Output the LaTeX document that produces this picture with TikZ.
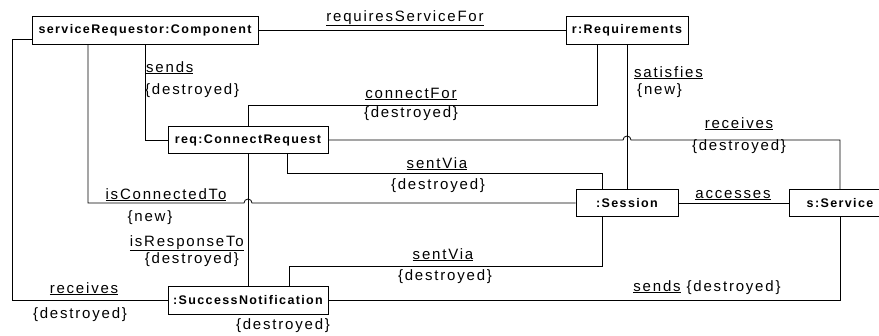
\documentclass[tikz,border=0pt]{standalone}
\usepackage{fontspec}
\setmainfont{Liberation Sans}
\newfontfamily\lblfont{Liberation Sans}[LetterSpace=12]
\newfontfamily\objfont{Liberation Sans}[LetterSpace=11]
\usetikzlibrary{positioning}

\begin{document}
\begin{tikzpicture}
  [
  x=1pt, y=-1pt,
  obj/.style={draw,line width=1pt,fill=white,minimum height=27.5pt,inner sep=0pt,
    font=\objfont\fontsize{12.5}{14}\selectfont\bfseries},
  link/.style={line width=0.8pt},
  lbl/.style={inner sep=0pt,font=\lblfont\fontsize{15}{17}\selectfont}
  ]
  \clip (0,0) rectangle (879,335);
  \useasboundingbox (0,0) rectangle (879,335);

  % objects
  \node[obj,minimum width=226pt] (comp) at (145,30.5) {serviceRequestor:Component};
  \node[obj,minimum width=122pt] (reqs) at (627,30.5) {r:Requirements};
  \node[obj,minimum width=160pt] (creq) at (248,140) {req:ConnectRequest};
  \node[obj,minimum width=102pt] (sess) at (627,203) {:Session};
  \node[obj,minimum width=102pt] (serv) at (840,203) {s:Service};
  \node[obj,minimum width=160pt] (succ) at (248,300.5) {:SuccessNotification};

  % links
  \draw[link] (comp.east) -- (reqs.west);
  \draw[link] (comp.south) |- (creq.west);
  \draw[link] ([yshift=-8.5pt]comp.west) -| (12,300.5) -- (succ.west);
  \draw[link] ([xshift=-57pt]comp.south) |- (244,203)
    arc[start angle=180,end angle=0,radius=4pt] -- (sess.west);
  \draw[link] (creq.south) -- (succ.north);
  \draw[link] (creq.north) -- ++(0,-20) -| ([xshift=-30pt]reqs.south);
  \draw[link] (reqs.south) -- (sess.north);
  \draw[link] (creq.east) -- (623,140)
    arc[start angle=180,end angle=0,radius=4pt] -| (serv.north);
  \draw[link] ([xshift=39pt]creq.south) -- ++(0,19) -| ([xshift=-25pt]sess.north);
  \draw[link] (sess.east) -- (serv.west);
  \draw[link] ([xshift=41pt]succ.north) -- ++(0,-20) -| ([xshift=-25pt]sess.south);
  \draw[link] (succ.east) -| (serv.south);

  % labels
  \node[lbl,anchor=base] (lreq) at (405,21) {\underline{requiresServiceFor}};
  \node[lbl,anchor=base west] (lsnd) at (146,72) {\underline{sends}};
  \node[lbl,anchor=base west] (lsndc) at (145,94) {\{destroyed\}};
  \node[lbl,anchor=base] (lcon) at (411,98) {\underline{connectFor}};
  \node[lbl,anchor=base] (lconc) at (411,117) {\{destroyed\}};
  \node[lbl,anchor=base west] (lsat) at (634,77) {\underline{satisfies}};
  \node[lbl,anchor=base west] (lsatc) at (637,94) {\{new\}};
  \node[lbl,anchor=base] (lrcv) at (739,128) {\underline{receives}};
  \node[lbl,anchor=base] (lrcvc) at (739,150) {\{destroyed\}};
  \node[lbl,anchor=base] (lsv) at (437,168) {\underline{sentVia}};
  \node[lbl,anchor=base] (lsvc) at (438,189) {\{destroyed\}};
  \node[lbl,anchor=base] (lacc) at (733,198) {\underline{accesses}};
  \node[lbl,anchor=base] (lict) at (166,199) {\underline{isConnectedTo}};
  \node[lbl,anchor=base] (lictc) at (150,221) {\{new\}};
  \node[lbl,anchor=base east] (lirt) at (244,246) {\underline{isResponseTo}};
  \node[lbl,anchor=base east] (lirtc) at (239,263) {\{destroyed\}};
  \node[lbl,anchor=base] (lrcv2) at (84,293) {\underline{receives}};
  \node[lbl,anchor=base] (lrcv2c) at (80,318) {\{destroyed\}};
  \node[lbl,anchor=base] (lsv2) at (443,259) {\underline{sentVia}};
  \node[lbl,anchor=base] (lsv2c) at (445,280) {\{destroyed\}};
  \node[lbl,anchor=base] (lsnd2) at (707,291) {\underline{sends} \{destroyed\}};
  \node[lbl,anchor=base] (lsucc) at (283,329) {\{destroyed\}};
\end{tikzpicture}
\end{document}
